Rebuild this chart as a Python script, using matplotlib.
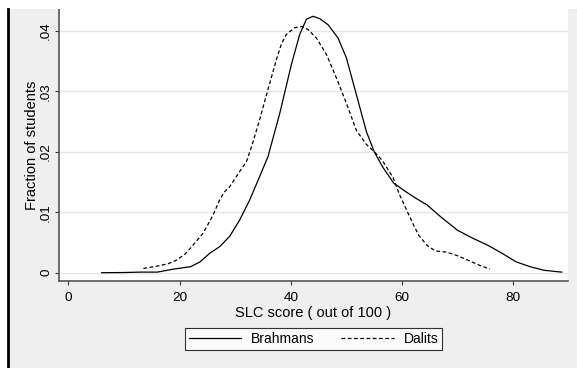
import matplotlib.pyplot as plt
from matplotlib.patches import Rectangle
from matplotlib.lines import Line2D

plt.rcParams['font.family'] = ['Liberation Sans', 'DejaVu Sans']

# SLC score densities
brahmans_x = [6, 10, 13, 16, 19, 22, 23.7, 25.4, 27.2, 29, 30.8, 32.6, 34.4, 35.9, 38, 40.1,
              41.6, 42.8, 44, 45.2, 46.7, 48.5, 50, 51.8, 53.6, 55, 56.5, 58.5, 60.5, 62.5,
              64.5, 67, 70, 72.5, 75.5, 78, 80.5, 83, 85.5, 88.7]
brahmans_y = [0, 0.00003, 0.0001, 0.0001, 0.0006, 0.0010, 0.0018, 0.0032, 0.0043, 0.0060,
              0.0087, 0.0120, 0.0159, 0.0192, 0.0263, 0.0344, 0.0394, 0.0419, 0.0424, 0.0420,
              0.0410, 0.0388, 0.0355, 0.0294, 0.0233, 0.0200, 0.0175, 0.0148, 0.0135, 0.0123,
              0.0112, 0.0092, 0.0070, 0.0058, 0.0045, 0.0032, 0.0018, 0.0010, 0.0004, 0.0001]

dalits_x = [13.5, 16, 18, 19.5, 21, 22, 23, 24.2, 25, 26, 27.2, 28, 29, 30, 31, 32, 33, 34.4,
            35.9, 37.4, 38.3, 39.2, 40.7, 42, 43.1, 44.6, 46.4, 48.2, 50, 51.8, 53.6, 55,
            56.5, 58.4, 59.5, 60.8, 62, 63, 64.5, 66, 68, 70, 72.5, 74, 75.8]
dalits_y = [0.0007, 0.0011, 0.0015, 0.0021, 0.0031, 0.0041, 0.0052, 0.0065, 0.0078, 0.0095,
            0.0120, 0.0133, 0.0142, 0.0156, 0.0170, 0.0183, 0.0210, 0.0253, 0.0303, 0.0352,
            0.0378, 0.0394, 0.0405, 0.0407, 0.0402, 0.0388, 0.0361, 0.0322, 0.0280, 0.0235,
            0.0212, 0.0200, 0.0185, 0.0157, 0.0130, 0.0104, 0.0080, 0.0062, 0.0045, 0.0036,
            0.0034, 0.0028, 0.0018, 0.0012, 0.0006]

x_ticks = [0, 20, 40, 60, 80]
y_ticks = [0, 0.01, 0.02, 0.03, 0.04]
y_ticklabels = ['0', '.01', '.02', '.03', '.04']

W, H = 577, 368
fig = plt.figure(figsize=(W / 100, H / 100), dpi=100)
fig.patch.set_facecolor('#efefef')

# white border strips and black left rule, like the cropped Stata export
fig.patches.append(Rectangle((0, 1 - 9 / H), 1, 9 / H, transform=fig.transFigure,
                             facecolor='white', edgecolor='none', zorder=0))
fig.patches.append(Rectangle((0, 0), 7 / W, 1, transform=fig.transFigure,
                             facecolor='white', edgecolor='none', zorder=0))
fig.lines.append(Line2D([8 / W, 8 / W], [0, 1 - 9 / H], transform=fig.transFigure,
                        color='black', lw=2))

ax = fig.add_axes([59 / W, 87 / H, 509 / W, 272 / H])
ax.set_facecolor('white')

ax.plot(brahmans_x, brahmans_y, color='black', lw=0.9, label='Brahmans')
ax.plot(dalits_x, dalits_y, color='black', lw=0.9, dashes=(3, 2), label='Dalits')

ax.set_xlim(-1.67, 89.83)
ax.set_ylim(-0.00137, 0.0436)
ax.set_xticks(x_ticks)
ax.set_yticks(y_ticks)
ax.set_yticklabels(y_ticklabels, rotation=90, va='center')
ax.grid(axis='y', color='#e6e6e6', lw=1)
ax.set_axisbelow(True)

for s in ['top', 'right']:
    ax.spines[s].set_visible(False)
for s in ['left', 'bottom']:
    ax.spines[s].set_color('#555555')
    ax.spines[s].set_linewidth(1.2)
ax.tick_params(axis='both', labelsize=9.7, length=3, color='#333333')
ax.tick_params(axis='x', pad=5)
ax.tick_params(axis='y', pad=2)

ax.set_xlabel('SLC score ( out of 100 )', fontsize=10.5, labelpad=1)
ax.set_ylabel('Fraction of students', fontsize=10.5, labelpad=0.5)

leg = fig.legend(loc='center', bbox_to_anchor=(313.5 / W, 1 - 339 / H), ncol=2,
                 fontsize=10, frameon=True, fancybox=False, handlelength=3.8,
                 handletextpad=0.7, columnspacing=1.9, borderpad=0.3)
leg.get_frame().set_edgecolor('black')
leg.get_frame().set_linewidth(0.8)
leg.get_frame().set_facecolor('white')

fig.savefig('out.png', dpi=100, facecolor=fig.get_facecolor())
